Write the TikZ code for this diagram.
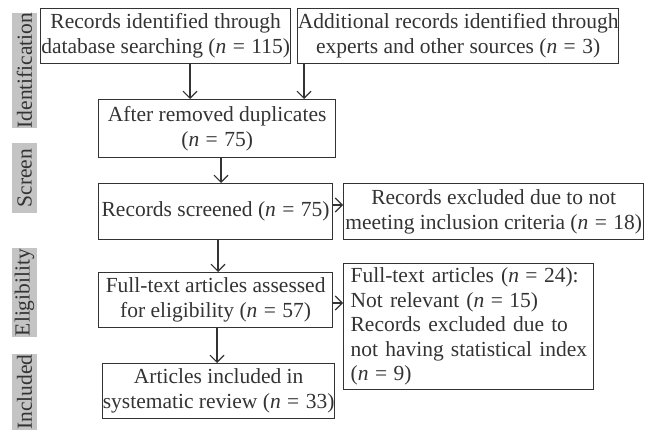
\documentclass[tikz,border=0pt]{standalone}
\usepackage{fontspec}
\setmainfont{Liberation Serif}
\usetikzlibrary{arrows.meta,calc}
\definecolor{lc}{HTML}{333333}
\definecolor{lab}{HTML}{C4C4C4}
\newcommand{\nEq}{\textit{n}\hspace{0.3em}=\hspace{0.3em}}
\tikzset{
  box/.style={draw=lc, line width=1.3pt, anchor=north west, inner sep=0pt, align=center, text=lc,
    font=\fontsize{21.5}{25}\selectfont},
  lbox/.style={box, align=left},
  side/.style={fill=lab, rotate=90, inner sep=0pt, text=lc, font=\fontsize{21.5}{25}\selectfont},
  arr/.style={draw=lc, line width=1.1pt, -{Straight Barb[length=7pt,width=14pt,line width=1.1pt]}},
}
\begin{document}
\begin{tikzpicture}[x=1pt,y=-1pt]
\useasboundingbox (0,0) rectangle (650,430);
% side labels
\node[side, minimum width=115, minimum height=25] (lid) at (24.5,70.5) {Identification};
\node[side, minimum width=70, minimum height=25] (lsc) at (24.5,178) {Screen};
\node[side, minimum width=89, minimum height=25] (lel) at (24.5,292.5) {Eligibility};
\node[side, minimum width=76, minimum height=25] (lin) at (24.5,392) {Included};
% boxes
\node[box, minimum width=250, minimum height=55] (b1) at (40,8) {Records identified through\\database searching (\nEq 115)};
\node[box, minimum width=321, minimum height=55] (b2) at (297,8) {Additional records identified through\\experts and other sources (\nEq 3)};
\node[box, minimum width=237, minimum height=58] (b3) at (98,99) {After removed duplicates\\(\nEq 75)};
\node[box, minimum width=234, minimum height=56] (b4) at (98,183) {Records screened (\nEq 75)};
\node[box, minimum width=300, minimum height=56] (b5) at (343,183) {Records excluded due to not\\meeting inclusion criteria (\nEq 18)};
\node[box, minimum width=234, minimum height=55] (b6) at (98,272) {Full-text articles assessed\\for eligibility (\nEq 57)};
\node[box, minimum width=232, minimum height=55] (b7) at (102,363) {Articles included in\\systematic review (\nEq 33)};
\node[lbox, minimum width=250, minimum height=126, text width=236, inner xsep=7pt, inner ysep=0pt,
  font=\fontsize{21.5}{24.5}\selectfont] (b8) at (343,263) {\mbox{Full-text articles (\nEq 24):}\\\mbox{Not relevant (\nEq 15)}\\\mbox{Records excluded due to}\\\mbox{not having statistical index}\\\mbox{(\nEq 9)}};
% arrow guides
\coordinate (x1) at (190,0);
\coordinate (x2) at (304,0);
\coordinate (x3) at (221,0);
\coordinate (x4) at (218,0);
\coordinate (x6) at (217,0);
\coordinate (y4) at (0,205);
\coordinate (y6) at (0,303);
% arrows
\draw[arr] (b1.south -| x1) -- (b3.north -| x1);
\draw[arr] (b2.south -| x2) -- (b3.north -| x2);
\draw[arr] (b3.south -| x3) -- (b4.north -| x3);
\draw[arr] (b4.east |- y4) -- (b5.west |- y4);
\draw[arr] (b4.south -| x4) -- (b6.north -| x4);
\draw[arr] (b6.east |- y6) -- (b8.west |- y6);
\draw[arr] (b6.south -| x6) -- (b7.north -| x6);
\end{tikzpicture}
\end{document}
